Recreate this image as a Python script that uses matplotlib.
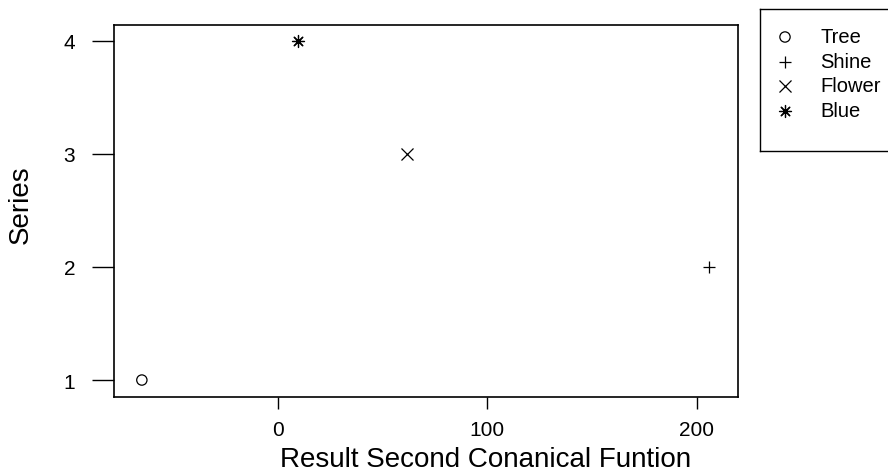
import matplotlib
matplotlib.use('Agg')
import matplotlib.pyplot as plt

# 数据
names = ['Tree', 'Shine', 'Flower', 'Blue']
x_vals = [-65, 206, 61.5, 9.7]
y_vals = [1, 2, 3, 4]
markers = ['o', '+', 'x', (8, 2, 0)]
x_ticks = [0, 100, 200]
y_ticks = [1, 2, 3, 4]

plt.rcParams['font.family'] = ['Liberation Sans', 'DejaVu Sans']

W, H = 888, 477
fig = plt.figure(figsize=(W / 100, H / 100), dpi=100)
ax = fig.add_axes([114 / W, 1 - 398 / H, (738 - 114) / W, (398 - 26) / H])


def draw_point(a, x, y, m):
    if m == 'o':
        a.scatter(x, y, marker=m, s=55, facecolors='none', edgecolors='black', linewidths=0.9)
    else:
        a.scatter(x, y, marker=m, s=75, color='black', linewidths=0.9)


for x, y, m in zip(x_vals, y_vals, markers):
    draw_point(ax, x, y, m)

ax.set_xlim(-78.3, 219.7)
ax.set_ylim(0.85, 4.14)
ax.set_xticks(x_ticks)
ax.set_yticks(y_ticks)
ax.tick_params(axis='both', direction='out', width=1, labelsize=15, colors='black')
ax.tick_params(axis='x', length=8.5, pad=8)
ax.tick_params(axis='y', length=16, pad=12)
for s in ax.spines.values():
    s.set_linewidth(1.2)

ax.set_xlabel('Result Second Conanical Funtion', fontsize=20)
ax.xaxis.set_label_coords(0.595, -0.133)
ax.set_ylabel('Series', fontsize=20)
ax.yaxis.set_label_coords(-0.128, 0.52)

# 图例 (右上角, 被图边裁掉一部分)
lax = fig.add_axes([760 / W, 1 - 152 / H, 140 / W, 142 / H])
lax.set_xlim(0, 140)
lax.set_ylim(142, 0)
lax.set_xticks([])
lax.set_yticks([])
for s in lax.spines.values():
    s.set_linewidth(1)
for i, (name, m) in enumerate(zip(names, markers)):
    yy = 28 + i * 24.5
    draw_point(lax, 25, yy, m)
    lax.text(60, yy, name, fontsize=14.5, va='center', ha='left')

fig.savefig('out.png', dpi=100)
